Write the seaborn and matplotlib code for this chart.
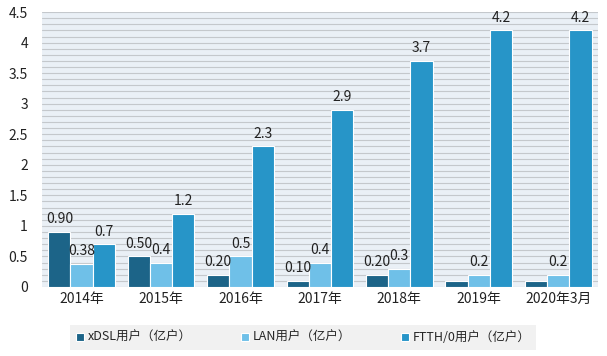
import pandas as pd
import matplotlib
matplotlib.use("Agg")
import matplotlib.pyplot as plt
import matplotlib.ticker as mticker
import seaborn as sns

# data
years = ["2014年", "2015年", "2016年", "2017年", "2018年", "2019年", "2020年3月"]
xdsl = [0.90, 0.50, 0.20, 0.10, 0.20, 0.10, 0.10]
lan = [0.38, 0.40, 0.50, 0.40, 0.30, 0.20, 0.20]
ftth = [0.7, 1.2, 2.3, 2.9, 3.7, 4.2, 4.2]

xdsl_labels = ["0.90", "0.50", "0.20", "0.10", "0.20", "", ""]
lan_labels = ["0.38", "0.4", "0.5", "0.4", "0.3", "0.2", "0.2"]
ftth_labels = ["0.7", "1.2", "2.3", "2.9", "3.7", "4.2", "4.2"]

series = ["xDSL用户（亿户）", "LAN用户（亿户）", "FTTH/0用户（亿户）"]
colors = ["#1c6488", "#6fc0e8", "#2795c8"]

df = pd.DataFrame({
    "year": years * 3,
    "value": xdsl + lan + ftth,
    "series": [series[0]] * 7 + [series[1]] * 7 + [series[2]] * 7,
})

sns.set_style("white")
plt.rcParams["font.family"] = ["Noto Sans CJK SC", "DejaVu Sans"]

fig, ax = plt.subplots(figsize=(6.07, 3.56), dpi=100)
fig.subplots_adjust(left=0.069, right=0.985, top=0.966, bottom=0.194)

sns.barplot(data=df, x="year", y="value", hue="series", palette=colors,
            saturation=1, width=0.84, edgecolor="white", linewidth=0.8, ax=ax)

ax.set_facecolor("#eaf0f6")
ax.set_ylim(0, 4.5)
ax.yaxis.set_major_locator(mticker.MultipleLocator(0.5))
ax.yaxis.set_minor_locator(mticker.MultipleLocator(0.1))
ax.yaxis.set_major_formatter(mticker.FuncFormatter(lambda v, p: f"{v:g}"))
ax.grid(axis="y", which="both", color="#c4c8cc", linewidth=0.8)
ax.set_axisbelow(True)
for s in ax.spines.values():
    s.set_visible(False)
ax.tick_params(axis="both", which="both", length=0, labelsize=10, colors="#222222")
ax.tick_params(axis="y", pad=10)
ax.set_xlabel("")
ax.set_ylabel("")

for cont, labs in zip(ax.containers, [xdsl_labels, lan_labels, ftth_labels]):
    ax.bar_label(cont, labels=labs, padding=4, fontsize=10, color="#222222")

leg = ax.legend(loc="upper center", bbox_to_anchor=(0.47, -0.115), ncol=3,
                frameon=True, facecolor="#eeeeee", edgecolor="none",
                fontsize=9, handlelength=0.6, handleheight=0.6,
                handletextpad=0.3, columnspacing=4.0, borderpad=0.5,
                fancybox=False)

fig.savefig("out.png", dpi=100)
